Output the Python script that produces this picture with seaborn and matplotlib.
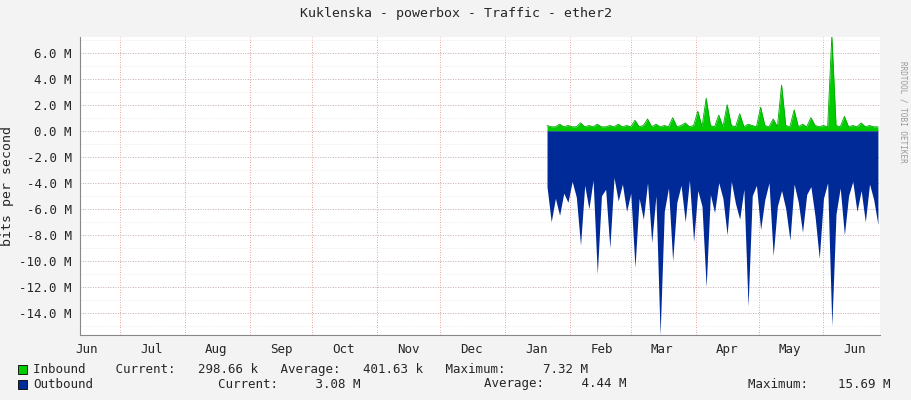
import matplotlib
matplotlib.use("Agg")
import matplotlib.pyplot as plt
import matplotlib.dates as mdates
import seaborn as sns
import pandas as pd
import numpy as np

start_date = "2012-01-21"
step_days = 2
outbound_m = [4.3,7.0,5.2,6.5,4.8,5.5,3.9,5.1,8.8,4.2,6.0,3.8,11.0,5.0,4.5,9.0,3.6,5.4,4.1,6.2,
              4.8,10.5,5.2,6.8,4.0,8.6,5.0,15.7,6.2,4.4,10.0,5.5,4.2,7.0,3.8,
              8.5,4.6,5.8,12.0,4.9,6.3,4.0,5.2,8.0,3.9,5.6,6.8,4.5,13.5,5.0,
              4.2,7.6,5.3,4.0,9.6,5.8,4.6,6.0,8.4,4.1,5.5,7.8,4.9,4.3,6.6,
              9.8,5.2,4.0,15.0,6.4,4.4,8.0,5.0,3.9,6.2,4.6,7.0,4.1,5.3,7.2]
inbound_m = [0.4,0.3,0.3,0.5,0.3,0.4,0.3,0.3,0.6,0.3,0.4,0.3,0.5,0.3,0.3,0.4,0.3,0.5,0.3,0.4,
             0.3,0.8,0.3,0.4,0.9,0.3,0.5,0.3,0.4,0.3,1.0,0.3,0.4,0.6,0.3,
             0.4,1.5,0.3,2.5,0.4,0.3,1.2,0.3,2.0,0.4,0.3,1.3,0.3,0.5,0.4,
             0.3,1.8,0.4,0.3,0.9,0.3,3.5,0.4,0.3,1.6,0.3,0.5,0.3,1.0,0.4,
             0.3,0.4,0.3,7.3,0.4,0.3,1.1,0.3,0.4,0.3,0.6,0.3,0.4,0.3,0.3]
month_labels = ["Jun","Jul","Aug","Sep","Oct","Nov","Dec","Jan","Feb","Mar","Apr","May","Jun"]
y_ticks = [6,4,2,0,-2,-4,-6,-8,-10,-12,-14]

dates = pd.date_range(start_date, periods=len(outbound_m), freq=f"{step_days}D")
df = pd.DataFrame({"date": dates, "in": inbound_m, "out": [-v for v in outbound_m]})

sns.set_style("white")
plt.rcParams["font.family"] = ["DejaVu Sans Mono"]
fig = plt.figure(figsize=(9.11, 4.0), dpi=100, facecolor="#F3F3F3")
ax = fig.add_axes([80/911, 1-335/400, 800/911, 298/400])
ax.set_facecolor("white")

ax.fill_between(df["date"], 0, df["out"], color="#002A97", lw=0, step=None)
ax.fill_between(df["date"], 0, df["in"], color="#00CC00", lw=0)
sns.lineplot(data=df, x="date", y="in", ax=ax, color="#00AA00", lw=0.6)

left = pd.Timestamp("2011-06-12")
right = pd.Timestamp("2012-06-28")
ax.set_xlim(left, right)
ax.set_ylim(-15.7, 7.2)

ms = pd.date_range("2011-07-01", "2012-06-01", freq="MS")
for m in ms:
    ax.axvline(m, color="#E08080", ls=(0, (1, 2)), lw=0.6, zorder=0)
for y in range(-15, 8):
    ax.axhline(y, color="#DDDDDD", ls=(0, (1, 2)), lw=0.5, zorder=0)
for y in y_ticks:
    ax.axhline(y, color="#C0A0A0", ls=(0, (1, 2)), lw=0.6, zorder=0)

mids = [pd.Timestamp("2011-06-15")] + [m + pd.Timedelta(days=15) for m in ms]
ax.set_xticks(mids)
ax.set_xticklabels(month_labels, fontsize=9)
ax.set_yticks(y_ticks)
ax.set_yticklabels([f"{v:.1f} M" for v in y_ticks], fontsize=9)
ax.tick_params(length=0, pad=6)
for s in ["top", "right"]:
    ax.spines[s].set_visible(False)
ax.spines["left"].set_color("#888888")
ax.spines["bottom"].set_color("#888888")
ax.set_xlabel("")
ax.set_ylabel("bits per second", fontsize=9.5)

fig.text(0.5, 1-14/400, "Kuklenska - powerbox - Traffic - ether2", ha="center", va="center", fontsize=9.5)
fig.text(903/911, 0.72, "RRDTOOL / TOBI OETIKER", rotation=270, ha="center", va="center", fontsize=5.5, color="#999999")

fig.patches.append(plt.Rectangle((18/911, 1-374/400), 9/911, 9/400, transform=fig.transFigure, fc="#00CC00", ec="black", lw=0.6))
fig.patches.append(plt.Rectangle((18/911, 1-389/400), 9/911, 9/400, transform=fig.transFigure, fc="#002A97", ec="black", lw=0.6))
fig.text(33/911, 1-369/400, "Inbound    Current:   298.66 k   Average:   401.63 k   Maximum:     7.32 M", va="center", fontsize=9)
fig.text(33/911, 1-384/400, "Outbound", va="center", fontsize=9)
fig.text(218/911, 1-384/400, "Current:     3.08 M", va="center", fontsize=9)
fig.text(484/911, 1-384/400, "Average:     4.44 M", va="center", fontsize=9)
fig.text(748/911, 1-384/400, "Maximum:    15.69 M", va="center", fontsize=9)

fig.savefig("out.png", dpi=100, facecolor=fig.get_facecolor())
